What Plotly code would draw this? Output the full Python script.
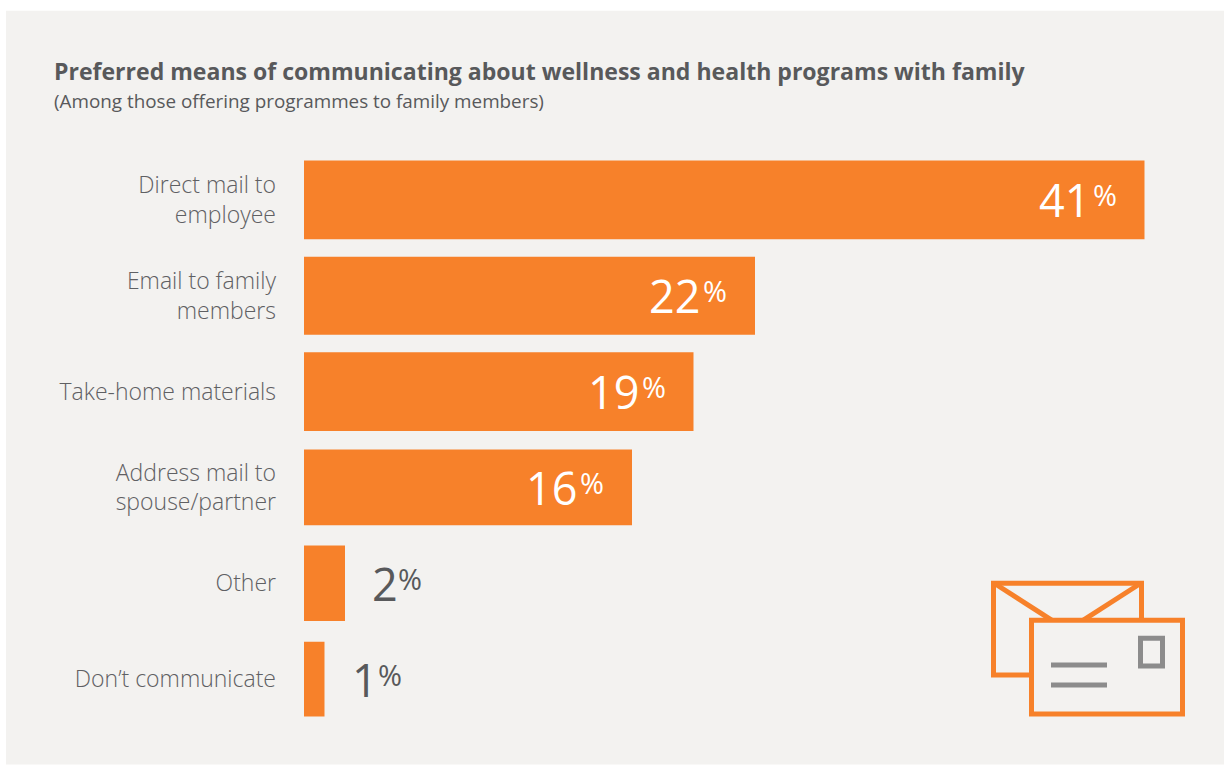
import plotly.graph_objects as go

# Survey results
categories = ["Direct mail to<br>employee", "Email to family<br>members", "Take-home materials",
              "Address mail to<br>spouse/partner", "Other", "Don’t communicate"]
shares = [41, 22, 19, 16, 2, 1]
bar_widths = [0.823, 0.813, 0.823, 0.79, 0.79, 0.78]

TITLE = "Preferred means of communicating about wellness and health programs with family"
SUBTITLE = "(Among those offering programmes to family members)"

ORANGE = "#f7812a"
PANEL = "#f3f2f0"
TEXT = "#58595b"
LABEL = "#5f6063"
GREY = "#8c8c8c"
FONT = "Open Sans"

W, H = 1224, 765
LEFT, TOP, BOTTOM = 304, 151.5, 37.5
plot_w, plot_h = W - LEFT, H - TOP - BOTTOM


def px(x):
    return (x - LEFT) / plot_w


def py(y):
    return 1 - (y - TOP) / plot_h


def rect(x0, y0, x1, y1, **kw):
    return dict(type="rect", xref="paper", yref="paper", x0=px(x0), x1=px(x1), y0=py(y0), y1=py(y1), **kw)


def seg(x0, y0, x1, y1, color, width):
    return dict(type="line", xref="paper", yref="paper", x0=px(x0), x1=px(x1), y0=py(y0), y1=py(y1),
                line=dict(color=color, width=width), layer="above")


fig = go.Figure(go.Bar(
    y=categories, x=shares, width=bar_widths, orientation="h",
    marker=dict(color=ORANGE, line_width=0), hoverinfo="skip",
))

# Value labels: large figure plus a smaller raised percent sign
annotations = []
for cat, val in zip(categories, shares):
    if val >= 10:
        number = dict(xanchor="right", xshift=-53, color="white")
        percent = dict(xanchor="right", xshift=-26, color="white")
    else:
        number = dict(xanchor="left", xshift=25, color=TEXT)
        percent = dict(xanchor="left", xshift=51, color=TEXT)
    annotations.append(dict(x=val, y=cat, showarrow=False, yanchor="middle",
                            text=str(val), xanchor=number["xanchor"], xshift=number["xshift"],
                            font=dict(family=FONT, size=45, color=number["color"])))
    annotations.append(dict(x=val, y=cat, showarrow=False, yanchor="middle", yshift=5,
                            text="%", xanchor=percent["xanchor"], xshift=percent["xshift"],
                            font=dict(family=FONT, size=29, color=percent["color"])))

annotations.append(dict(xref="paper", yref="paper", x=px(52), y=py(100.5), xanchor="left", yanchor="middle",
                        showarrow=False, text=SUBTITLE, font=dict(family=FONT, size=18.85, color=TEXT)))

shapes = [
    rect(6, 10, W, H, fillcolor=PANEL, line_width=0, layer="below"),
    # Envelope behind the address card
    rect(993.5, 583.5, 1141.5, 675.5, line=dict(color=ORANGE, width=5), fillcolor=PANEL, layer="above"),
    seg(995, 584, 1054, 622, ORANGE, 5),
    seg(1140, 584, 1081, 622, ORANGE, 5),
    # Address card
    rect(1031.5, 620.5, 1182.5, 714.5, line=dict(color=ORANGE, width=5), fillcolor=PANEL, layer="above"),
    rect(1140.5, 638.5, 1162.5, 666.5, line=dict(color=GREY, width=5), layer="above"),
    seg(1051, 665.5, 1107, 665.5, GREY, 5),
    seg(1051, 685.5, 1107, 685.5, GREY, 5),
]

fig.update_layout(
    width=W, height=H, autosize=False,
    margin=dict(l=LEFT, r=0, t=TOP, b=BOTTOM, pad=0),
    paper_bgcolor="white", plot_bgcolor="rgba(0,0,0,0)",
    showlegend=False, shapes=shapes, annotations=annotations,
    title=dict(text=f"<b>{TITLE}</b>", xref="container", yref="container", x=54 / W, y=1 - 72 / H,
               xanchor="left", yanchor="middle", font=dict(family=FONT, size=23.05, color=TEXT)),
    xaxis=dict(range=[0, plot_w / 20.5], visible=False),
    yaxis=dict(autorange="reversed", showgrid=False, zeroline=False, showline=False, ticks="",
               ticklabelstandoff=27, tickfont=dict(family=FONT, size=23, color=LABEL, weight=300)),
)

fig.write_html("out.html", config=dict(displayModeBar=False))
